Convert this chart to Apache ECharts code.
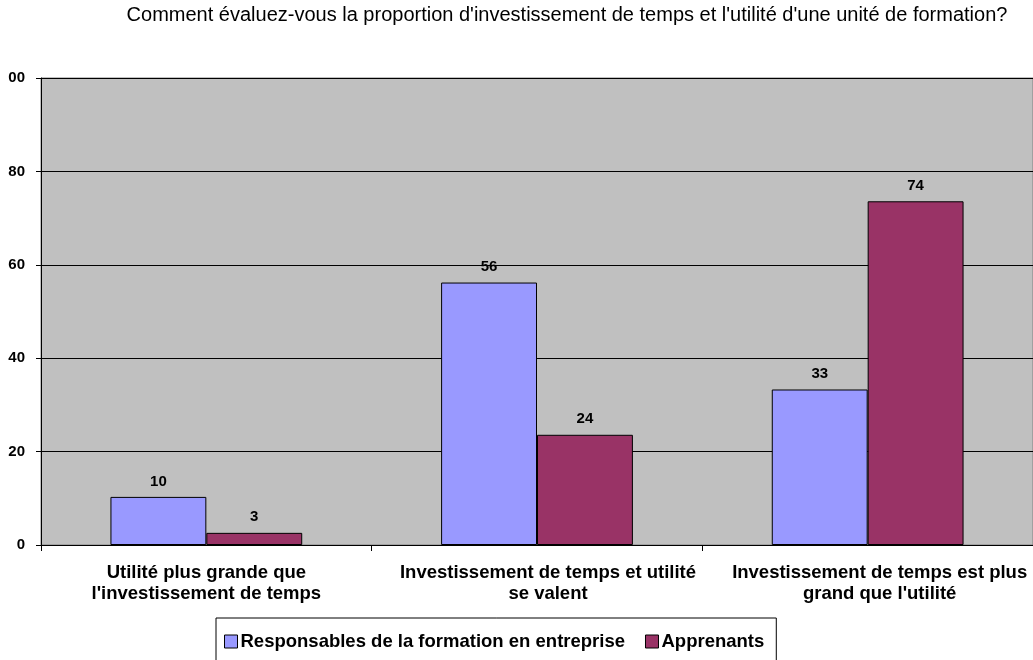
<!DOCTYPE html>
<html>
<head>
<meta charset="utf-8">
<script src="https://cdn.jsdelivr.net/npm/echarts@6/dist/echarts.min.js"></script>
<style>
  html, body { margin: 0; padding: 0; background: #fff; }
  #chart { width: 1033px; height: 660px; }
</style>
</head>
<body>
<div id="chart"></div>
<script>
const titleText = "Comment évaluez-vous la proportion d'investissement de temps et l'utilité d'une unité de formation?";
const categories = [
  "Utilité plus grande que\nl'investissement de temps",
  "Investissement de temps et utilité\nse valent",
  "Investissement de temps est plus\ngrand que l'utilité"
];
const seriesNames = ["Responsables de la formation en entreprise", "Apprenants"];
const responsables = [10.3, 56.2, 33.3];
const apprenants = [2.6, 23.6, 73.6];

const myChart = echarts.init(document.getElementById('chart'));
const font = 'Liberation Sans, Arial, sans-serif';

// the 2nd and 3rd labels sit a little right of their category centre in the original
const labelShift = [0, 22, 24];
const categoryData = categories.map(function (c, i) {
  return { value: c, textStyle: { padding: [0, 0, 0, labelShift[i]] } };
});

const option = {
  animation: false,
  textStyle: { fontFamily: font },
  title: {
    text: titleText,
    left: 562,
    textAlign: 'center',
    top: 0,
    textStyle: { fontSize: 20, fontWeight: 'normal', color: '#000', fontFamily: font }
  },
  grid: {
    left: 41, right: 0, top: 78, bottom: 115,
    show: true,
    backgroundColor: '#c0c0c0',
    borderColor: '#808080',
    borderWidth: 1
  },
  legend: {
    top: 618,
    left: 216,
    itemWidth: 13,
    itemHeight: 13,
    itemGap: 20,
    padding: [14, 12, 30, 8],
    borderColor: '#000',
    borderWidth: 1,
    icon: 'rect',
    itemStyle: { borderColor: '#000', borderWidth: 1 },
    textStyle: { fontSize: 18.5, fontWeight: 'bold', color: '#000', padding: [0, 0, 0, -2] },
    data: seriesNames
  },
  xAxis: {
    type: 'category',
    data: categoryData,
    axisLine: { lineStyle: { color: '#000', width: 1 } },
    axisTick: { show: true, length: 6, lineStyle: { color: '#000' } },
    axisLabel: {
      fontSize: 18.5, fontWeight: 'bold', color: '#000',
      margin: 17, lineHeight: 21, interval: 0
    }
  },
  yAxis: {
    type: 'value',
    min: 0, max: 100, interval: 20,
    axisLine: { show: true, lineStyle: { color: '#000' } },
    axisTick: { show: true, length: 5, lineStyle: { color: '#000' } },
    splitLine: { lineStyle: { color: '#000', width: 1 } },
    axisLabel: {
      fontSize: 15, fontWeight: 'bold', color: '#000', margin: 16,
      formatter: function (v) { return v === 100 ? '00' : String(v); }
    }
  },
  series: [
    {
      name: seriesNames[0],
      type: 'bar',
      data: responsables,
      barGap: '0%',
      barCategoryGap: '42%',
      itemStyle: { color: '#9999ff', borderColor: '#000', borderWidth: 1 },
      label: {
        show: true, position: 'top', distance: 8,
        fontSize: 15, fontWeight: 'bold', color: '#000',
        formatter: function (p) { return Math.round(p.value); }
      }
    },
    {
      name: seriesNames[1],
      type: 'bar',
      data: apprenants,
      itemStyle: { color: '#993366', borderColor: '#000', borderWidth: 1 },
      label: {
        show: true, position: 'top', distance: 8,
        fontSize: 15, fontWeight: 'bold', color: '#000',
        formatter: function (p) { return Math.round(p.value); }
      }
    }
  ]
};
myChart.setOption(option);
</script>
</body>
</html>
